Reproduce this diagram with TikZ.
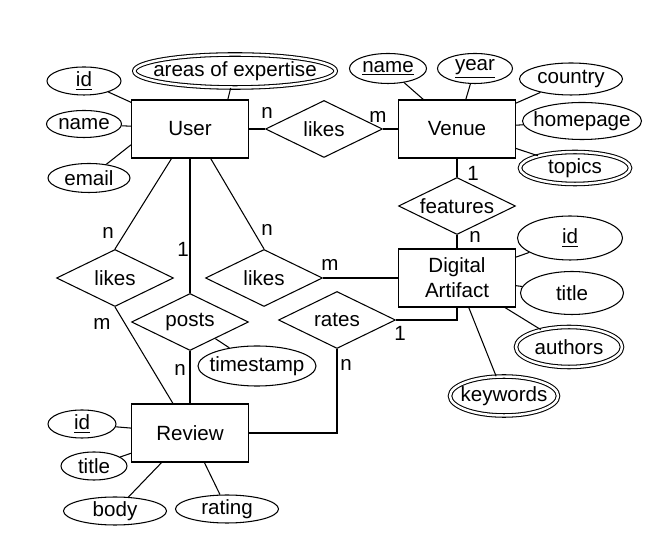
\documentclass[tikz,border=0pt]{standalone}
\usepackage{fontspec}
\setmainfont{Liberation Sans}
\usetikzlibrary{shapes.geometric}

\begin{document}
\begin{tikzpicture}[line width=0.6pt,
  every node/.style={font=\fontsize{11.7}{14.2}\selectfont},
  entity/.style={draw,rectangle,minimum width=2.34cm,minimum height=1.16cm,inner sep=0pt,align=center},
  rel/.style={draw,diamond,aspect=2,minimum width=2.34cm,minimum height=1.14cm,inner sep=0pt},
  attr/.style={draw,ellipse,inner xsep=-6pt,inner ysep=0pt},
  multi/.style={attr,double,double distance=1.4pt},
  card/.style={inner sep=0pt}]
  \useasboundingbox (0,0) rectangle (12.94,10.86);

  \node [entity] (user)   at (3.80,8.28) {User};
  \node [entity] (venue)  at (9.14,8.28) {Venue};
  \node [entity] (da)     at (9.14,5.30) {Digital\\Artifact};
  \node [entity] (review) at (3.80,2.20) {Review};

  \node [rel] (likesuv)  at (6.48,8.28) {likes};
  \node [rel] (features) at (9.14,6.74) {features};
  \node [rel] (likesur)  at (2.30,5.30) {likes};
  \node [rel] (likesud)  at (5.28,5.30) {likes};
  \node [rel] (posts)    at (3.80,4.42) {posts};
  \node [rel] (rates)    at (6.74,4.46) {rates};

  \node [attr,minimum width=1.48cm,minimum height=0.56cm]  (uid)    at (1.68,9.24) {\underline{id}};
  \node [attr,minimum width=1.50cm,minimum height=0.54cm]  (uname)  at (1.68,8.38) {name};
  \node [attr,minimum width=1.64cm,minimum height=0.58cm]  (uemail) at (1.78,7.30) {email};
  \node [multi,minimum width=4.00cm,minimum height=0.66cm] (uareas) at (4.70,9.44) {areas of expertise};
  \path (uid) edge (user);
  \path (uname) edge (user);
  \path (uemail) edge (user.195);
  \path (uareas) edge (user.38);

  \node [attr,minimum width=1.54cm,minimum height=0.60cm]  (vname)    at (7.76,9.49) {\underline{name}};
  \node [attr,minimum width=1.50cm,minimum height=0.60cm]  (vyear)    at (9.50,9.49) {\underline{year}};
  \node [attr,minimum width=2.06cm,minimum height=0.64cm]  (vcountry) at (11.42,9.28) {country};
  \node [attr,minimum width=2.38cm,minimum height=0.74cm]  (vhome)    at (11.64,8.44) {homepage};
  \node [multi,minimum width=2.20cm,minimum height=0.64cm] (vtopics)  at (11.50,7.50) {topics};
  \path (vname) edge (venue);
  \path (vyear) edge (venue);
  \path (vcountry) edge (venue);
  \path (vhome) edge (venue);
  \path (vtopics) edge (venue);

  \node [attr,minimum width=2.10cm,minimum height=0.88cm]  (did)       at (11.40,6.10) {\underline{id}};
  \node [attr,minimum width=2.06cm,minimum height=0.86cm]  (dtitle)    at (11.44,5.00) {title};
  \node [multi,minimum width=2.12cm,minimum height=0.80cm] (dauthors)  at (11.38,3.92) {authors};
  \node [multi,minimum width=2.16cm,minimum height=0.78cm] (dkeywords) at (10.08,2.94) {keywords};
  \path (did) edge (da);
  \path (dtitle) edge (da);
  \path (dauthors) edge (da);
  \path (dkeywords) edge (da);

  \node [attr,minimum width=2.36cm,minimum height=0.80cm] (ptime) at (5.14,3.54) {timestamp};
  \path (ptime) edge (posts);

  \node [attr,minimum width=1.36cm,minimum height=0.56cm] (rid)     at (1.64,2.38) {\underline{id}};
  \node [attr,minimum width=1.32cm,minimum height=0.56cm] (rtitle)  at (1.88,1.54) {title};
  \node [attr,minimum width=2.06cm,minimum height=0.56cm] (rbody)   at (2.30,0.64) {body};
  \node [attr,minimum width=2.06cm,minimum height=0.56cm] (rrating) at (4.54,0.68) {rating};
  \path (rid) edge (review);
  \path (rtitle) edge (review);
  \path (rbody) edge (review);
  \path (rrating) edge (review);

  \path (user.east) edge (likesuv.west);
  \path (likesuv.east) edge (venue.west);
  \path (venue.south) edge (features.north);
  \path (features.south) edge (da.north);
  \path (user.238) edge (likesur.north);
  \path (likesur.south) edge (review.120);
  \path (user.south) edge (posts.north);
  \path (posts.south) edge (review.north);
  \path (user.305) edge (likesud.north);
  \path (likesud.east) edge (da.west);
  \draw (rates.east) -| (da.south);
  \draw (rates.south) |- (review.east);

  \node [card] (c1)  at (5.34,8.60) {n};
  \node [card] (c2)  at (7.56,8.52) {m};
  \node [card] (c3)  at (9.46,7.40) {1};
  \node [card] (c4)  at (9.50,6.12) {n};
  \node [card] (c5)  at (2.16,6.20) {n};
  \node [card] (c6)  at (3.66,5.88) {1};
  \node [card] (c7)  at (5.34,6.26) {n};
  \node [card] (c8)  at (6.60,5.56) {m};
  \node [card] (c9)  at (2.04,4.38) {m};
  \node [card] (c10) at (3.60,3.46) {n};
  \node [card] (c11) at (8.00,4.20) {1};
  \node [card] (c12) at (6.92,3.56) {n};
\end{tikzpicture}
\end{document}
